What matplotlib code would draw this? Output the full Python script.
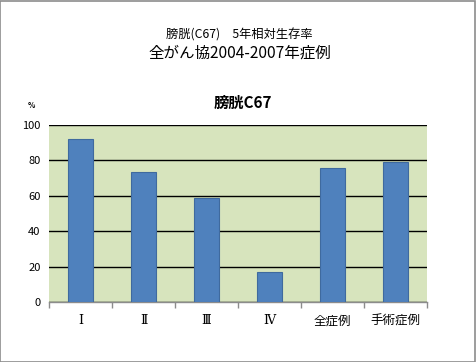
import matplotlib
matplotlib.use("Agg")
import matplotlib.pyplot as plt
from matplotlib.patches import Rectangle
import numpy as np

plt.rcParams['font.family'] = ['Noto Sans CJK JP', 'DejaVu Sans']

categories = ['Ⅰ', 'Ⅱ', 'Ⅲ', 'Ⅳ', '全症例', '手術症例']
values = [91.9, 73.3, 58.8, 16.9, 75.6, 79.0]
yticks = [0, 20, 40, 60, 80, 100]

fig = plt.figure(figsize=(4.76, 3.62), dpi=100)
fig.patch.set_facecolor('white')
fig.patches.append(Rectangle((0.001, 0.001), 0.997, 0.996, transform=fig.transFigure,
                             fill=False, edgecolor='#8c8c8c', linewidth=1.2))

W, H = 476, 362
left, right, top, bottom = 49, 427, 125, 302
ax = fig.add_axes([left / W, 1 - bottom / H, (right - left) / W, (bottom - top) / H])
ax.set_facecolor('#D7E4BD')

x = np.arange(len(categories))
ax.bar(x, values, width=0.4, color='#4F81BD', edgecolor='#3F6A9E', linewidth=0.8, zorder=3)

ax.set_xlim(-0.5, len(categories) - 0.5)
ax.set_ylim(0, 100)
ax.set_yticks(yticks)
ax.set_yticklabels([str(v) for v in yticks], fontsize=8)
ax.yaxis.grid(True, color='black', linewidth=1.0, zorder=1)
ax.tick_params(axis='y', length=0, pad=6)

ax.set_xticks(x)
labels = ax.set_xticklabels(categories, fontsize=9)
for lab in labels[:4]:
    lab.set_family(['DejaVu Serif', 'Noto Sans CJK JP'])
ax.set_xticks(np.arange(-0.5, len(categories)), minor=True)
ax.tick_params(axis='x', which='major', length=0, pad=9)
ax.tick_params(axis='x', which='minor', length=4, color='#8c8c8c', width=1)

for s in ['top', 'right', 'left']:
    ax.spines[s].set_visible(False)
ax.spines['bottom'].set_color('#8c8c8c')
ax.spines['bottom'].set_linewidth(1)
ax.set_axisbelow(True)

fig.text(239 / W, 1 - 35 / H, '膀胱(C67)　5年相対生存率', ha='center', va='center', fontsize=8.8)
fig.text(240 / W, 1 - 53 / H, '全がん協2004-2007年症例', ha='center', va='center', fontsize=11.2)
fig.text(243 / W, 1 - 103 / H, '膀胱C67', ha='center', va='center', fontsize=11, fontweight='bold')
fig.text(31 / W, 1 - 106 / H, '%', ha='center', va='center', fontsize=5.5, fontweight='bold')

fig.savefig('out.png', dpi=100, facecolor='white')
